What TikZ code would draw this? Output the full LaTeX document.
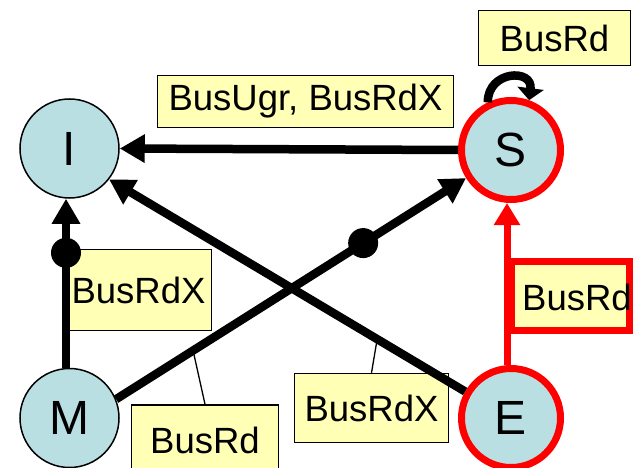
\documentclass[tikz,border=0pt]{standalone}
\usepackage{fontspec}
\setmainfont{Liberation Sans}
\usetikzlibrary{arrows.meta,calc}
\definecolor{stateblue}{HTML}{B9DFE3}
\definecolor{notefill}{HTML}{FFFFB5}
\begin{document}
\begin{tikzpicture}[x=1pt,y=-1pt,
  state/.style={circle,draw=black,line width=1.5pt,fill=stateblue,
    minimum size=99pt,inner sep=0pt,font=\fontsize{48}{54}\selectfont},
  hotstate/.style={state,draw=red,line width=7pt},
  note/.style={rectangle,draw=black,line width=1.5pt,fill=notefill,
    inner sep=0pt,font=\fontsize{36.5}{42}\selectfont},
  notetext/.style={inner sep=0pt,font=\fontsize{36.5}{42}\selectfont},
  hotnote/.style={note,draw=red,line width=7pt},
  edge/.style={line width=8.5pt,-{Triangle[length=25pt,width=27pt]}},
  hotedge/.style={draw=red,line width=7pt,-{Triangle[length=22pt,width=25pt]}},
  loopedge/.style={line width=8.5pt,-{Triangle[length=12pt,width=26pt]}},
  callout/.style={line width=1.3pt},
  dot/.style={fill=black}]
\useasboundingbox (0,0) rectangle (643,468);

% states
\node[state]    (I) at (69.5,148.5) {I};
\node[hotstate] (S) at (511,150)    {S};
\node[state]    (M) at (69.5,418)   {M};
\node[hotstate] (E) at (511,418)    {E};

% transition labels
\node[note,minimum width=152pt,minimum height=55pt] (lblTop)  at (554.5,38)  {BusRd};
\node[note,minimum width=296pt,minimum height=52pt] (lblUgr)  at (305.5,101.5) {BusUgr, BusRdX};
\node[note,minimum width=146pt,minimum height=81pt] (lblRdXL) at (138.5,290) {BusRdX};
\node[note,minimum width=147pt,minimum height=70pt] (lblRdB)  at (205,440)  {BusRd};
\node[note,minimum width=154pt,minimum height=69pt] (lblRdXB) at (371.5,408) {BusRdX};
\node[hotnote,minimum width=118pt,minimum height=69pt] (lblRed) at (570.5,296) {};
\node[notetext] (lblRedText) at (577,297) {BusRd};

% transitions
\draw[edge] (S.west) -- (I.east);
\draw[edge] (E.150) -- (I.-38);
\draw[edge] (M.22) -- (S.-148);
\draw[edge] ([xshift=-3.5pt]M.north) -- ([xshift=-3.5pt]I.south);
\draw[hotedge] ([xshift=-4pt]E.north) -- ([xshift=-4pt]S.south);
\draw[loopedge] (S.116) .. controls +(0,-32) and +(4,-32) .. (S.70);

% bus-side markers
\coordinate (dotMI) at ($([xshift=-3.5pt]M.north)!0.68!([xshift=-3.5pt]I.south)$);
\coordinate (dotMS) at ($(M.22)!0.706!(S.-148)$);
\fill[dot] (dotMI) circle[radius=15pt];
\fill[dot] (dotMS) circle[radius=15pt];

% label callouts
\coordinate (tapMS) at ($(M.22)!0.22!(S.-148)$);
\coordinate (tapEI) at ($(E.150)!0.247!(I.-38)$);
\draw[callout] (tapMS) -- (lblRdB.north);
\draw[callout] (tapEI) -- (lblRdXB.north);
\end{tikzpicture}
\end{document}
